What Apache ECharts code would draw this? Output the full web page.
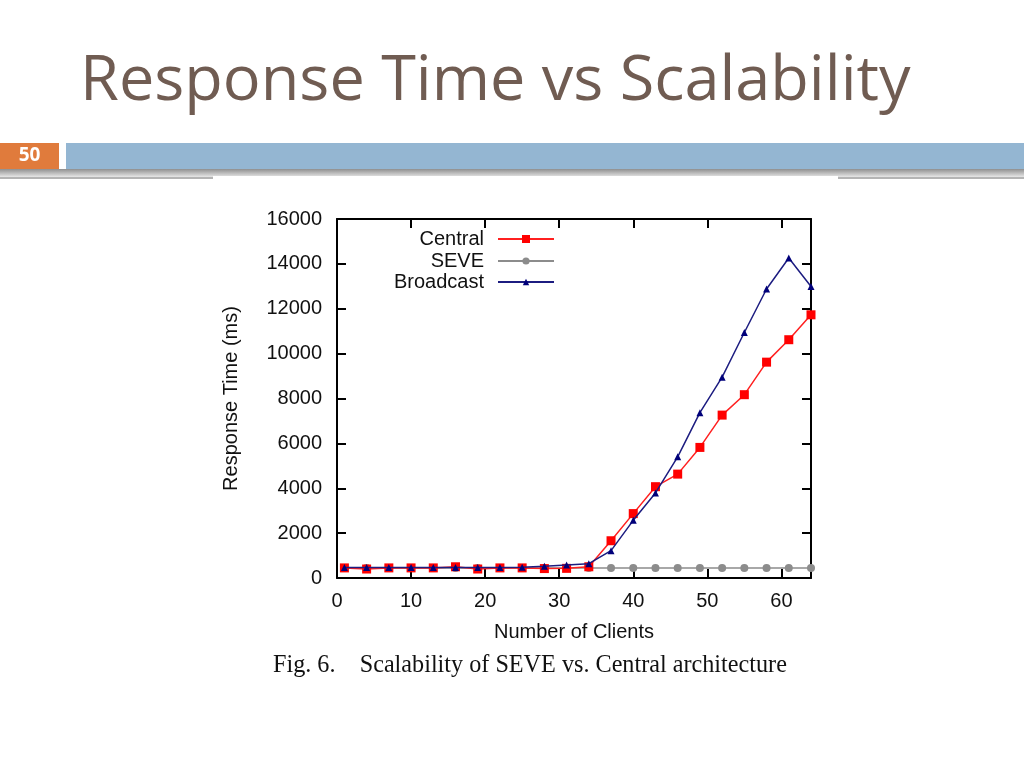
<!DOCTYPE html>
<html>
<head>
<meta charset="utf-8">
<script src="https://cdn.jsdelivr.net/npm/echarts@6/dist/echarts.min.js"></script>
<style>
html,body{margin:0;padding:0;background:#fff;}
#chart{width:1024px;height:768px;}
</style>
</head>
<body>
<div id="chart"></div>
<script>
var clients = [1,4,7,10,13,16,19,22,25,28,31,34,37,40,43,46,49,52,55,58,61,64];
var central = [450,400,450,450,450,500,400,450,450,420,430,500,1660,2870,4070,4630,5820,7260,8170,9620,10620,11730];
var seve = [450,450,450,450,450,450,450,450,450,450,450,450,450,450,450,450,450,450,450,450,450,450];
var broadcast = [470,470,470,470,470,470,470,470,480,520,580,640,1220,2570,3790,5400,7370,8950,10940,12880,14260,12990];

function pairs(xs, ys){ return xs.map(function(x,i){ return [x, ys[i]]; }); }

var chart = echarts.init(document.getElementById('chart'));
var FONT = 'Liberation Sans, Arial, sans-serif';
var axisFont = {fontFamily:FONT, fontSize:20, color:'#111'};
var lineBlack = {onZero:false, lineStyle:{color:'#000', width:2}};
var tickIn = {inside:true, length:9, lineStyle:{color:'#000', width:2}};

chart.setOption({
  animation:false,
  backgroundColor:'#fff',
  graphic:[
    {type:'text', left:80, top:51, style:{text:'Response Time vs Scalability', font:'63px "Open Sans", sans-serif', fill:'#705C52'}},
    {type:'rect', shape:{x:0,y:169,width:1024,height:8}, style:{fill:new echarts.graphic.LinearGradient(0,0,0,1,[{offset:0,color:'#8f8f8f'},{offset:1,color:'#e6e6e6'}])}},
    {type:'rect', shape:{x:0,y:177,width:1024,height:2}, style:{fill:'#b4b4b4'}},
    {type:'rect', shape:{x:213,y:176,width:625,height:10}, style:{fill:'#fff'}},
    {type:'rect', shape:{x:0,y:143,width:59,height:26}, style:{fill:'#E07B3C'}},
    {type:'rect', shape:{x:66,y:143,width:958,height:26}, style:{fill:'#94B6D2'}},
    {type:'text', x:29.5, y:155.5, style:{text:'50', font:'bold 19px "Open Sans", sans-serif', fill:'#fff', textAlign:'center', textVerticalAlign:'middle'}},
    {type:'text', left:273, top:654, style:{text:'Fig. 6.    Scalability of SEVE vs. Central architecture', font:'24.2px "Liberation Serif", "Times New Roman", serif', fill:'#111'}}
  ],
  grid:{left:337, right:213, top:219, bottom:190, show:false},
  legend:[
    {data:['Central'], right:469, top:229, align:'right', padding:0, itemWidth:56, itemHeight:10, textStyle:{fontFamily:FONT, fontSize:20, color:'#111', padding:[0,9,0,0]}},
    {data:['SEVE'], right:469, top:251, align:'right', padding:0, itemWidth:56, itemHeight:9, textStyle:{fontFamily:FONT, fontSize:20, color:'#111', padding:[0,9,0,0]}},
    {data:['Broadcast'], right:469, top:272, align:'right', padding:0, itemWidth:56, itemHeight:8, textStyle:{fontFamily:FONT, fontSize:20, color:'#111', padding:[0,9,0,0]}}
  ],
  xAxis:[
    {type:'value', min:0, max:64, interval:10, position:'bottom',
     name:'Number of Clients', nameLocation:'middle', nameGap:44, nameTextStyle:axisFont,
     axisLine:lineBlack, axisTick:tickIn,
     axisLabel:Object.assign({margin:13, formatter:function(v){ return v % 10 === 0 ? String(v) : ''; }}, axisFont),
     splitLine:{show:false}},
    {type:'value', min:0, max:64, interval:10, position:'top',
     axisLine:lineBlack, axisTick:tickIn,
     axisLabel:{show:false}, splitLine:{show:false}}
  ],
  yAxis:[
    {type:'value', min:0, max:16000, interval:2000, position:'left',
     name:'Response Time (ms)', nameLocation:'middle', nameGap:96, nameTextStyle:axisFont,
     axisLine:lineBlack, axisTick:tickIn,
     axisLabel:Object.assign({margin:15, formatter:function(v){ return String(v); }}, axisFont), splitLine:{show:false}},
    {type:'value', min:0, max:16000, interval:2000, position:'right',
     axisLine:lineBlack, axisTick:tickIn,
     axisLabel:{show:false}, splitLine:{show:false}}
  ],
  series:[
    {name:'SEVE', type:'line', data:pairs(clients, seve), symbol:'circle', symbolSize:8,
     itemStyle:{color:'#8c8c8c'}, lineStyle:{color:'#8c8c8c', width:1.5}, z:2},
    {name:'Central', type:'line', data:pairs(clients, central), symbol:'rect', symbolSize:9,
     itemStyle:{color:'#FF0000'}, lineStyle:{color:'#FF2020', width:1.5}, z:3},
    {name:'Broadcast', type:'line', data:pairs(clients, broadcast), symbol:'triangle', symbolSize:7,
     itemStyle:{color:'#00007A'}, lineStyle:{color:'#1C1C80', width:1.5}, z:4}
  ]
});
</script>
</body>
</html>
